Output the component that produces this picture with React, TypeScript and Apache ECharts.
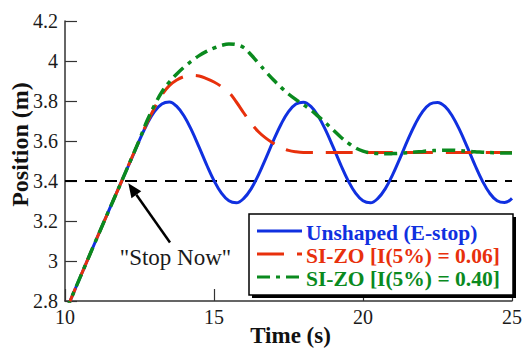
import React, { useEffect, useRef } from "react";
import * as echarts from "echarts";

// Sample times (s): constant-velocity ramp, then 0.25 s steps after the stop command
const timeS = [
  10, 11, 12, 12.25, 12.5, 12.75, 13, 13.25, 13.5, 13.75, 14, 14.25, 14.5, 14.75,
  15, 15.25, 15.5, 15.75, 16, 16.25, 16.5, 16.75, 17, 17.25, 17.5, 17.75, 18,
  18.25, 18.5, 18.75, 19, 19.25, 19.5, 19.75, 20, 20.25, 20.5, 20.75, 21, 21.25,
  21.5, 21.75, 22, 22.25, 22.5, 22.75, 23, 23.25, 23.5, 23.75, 24, 24.25, 24.5,
  24.75, 25,
];

// Position (m) — unshaped emergency stop
const unshapedPos = [
  2.74, 3.09,
  3.433, 3.517, 3.604, 3.684, 3.747, 3.785, 3.795, 3.773, 3.724, 3.653, 3.569, 3.482,
  3.402, 3.339, 3.301, 3.291, 3.313, 3.362, 3.433, 3.517, 3.604, 3.684, 3.747, 3.785,
  3.794, 3.773, 3.724, 3.653, 3.569, 3.482, 3.402, 3.339, 3.301, 3.291, 3.313, 3.362,
  3.433, 3.517, 3.604, 3.684, 3.747, 3.785, 3.793, 3.773, 3.724, 3.653, 3.569, 3.482,
  3.402, 3.339, 3.301, 3.292, 3.313,
];

// Position (m) — SI-ZO shaper, I(5%) = 0.06
const siZo006Pos = [
  2.74, 3.09,
  3.433, 3.52, 3.605, 3.69, 3.765, 3.83, 3.877, 3.905, 3.922, 3.928, 3.925, 3.912,
  3.895, 3.872, 3.843, 3.795, 3.74, 3.688, 3.645, 3.613, 3.588, 3.567, 3.553, 3.546,
  3.543, 3.543, 3.543, 3.543, 3.543, 3.543, 3.543, 3.543, 3.543, 3.543, 3.543, 3.543,
  3.543, 3.543, 3.543, 3.543, 3.543, 3.543, 3.543, 3.543, 3.543, 3.543, 3.543, 3.543,
  3.543, 3.543, 3.543, 3.543, 3.543,
];

// Position (m) — SI-ZO shaper, I(5%) = 0.40
const siZo040Pos = [
  2.74, 3.09,
  3.433, 3.52, 3.607, 3.7, 3.778, 3.845, 3.895, 3.935, 3.97, 4.0, 4.027, 4.048,
  4.065, 4.078, 4.085, 4.082, 4.067, 4.03, 3.988, 3.945, 3.905, 3.868, 3.835, 3.807,
  3.782, 3.755, 3.723, 3.69, 3.655, 3.62, 3.59, 3.565, 3.549, 3.541, 3.537, 3.536,
  3.537, 3.539, 3.542, 3.545, 3.548, 3.551, 3.553, 3.554, 3.554, 3.552, 3.549, 3.546,
  3.544, 3.542, 3.541, 3.54, 3.54,
];

// "Stop Now" threshold line
const stopLevel = 3.4;
const xRange = [10, 25];
const yRange = [2.8, 4.2];

const seriesNames = [
  "Unshaped (E-stop)",
  "SI-ZO [I(5%) = 0.06]",
  "SI-ZO [I(5%) = 0.40]",
];
const seriesColors = ["#1030e0", "#e8300c", "#0a8a1e"];

const FONT = "Liberation Serif";
const RED_DASH = [27, 13];
const GREEN_DASH = [13, 6, 4, 6];

const pairs = (ys: number[]) => timeS.map((t, i) => [t, ys[i]]);

export default function App() {
  const ref = useRef<HTMLDivElement>(null);

  useEffect(() => {
    document.body.style.margin = "0";
    if (!ref.current) return;
    const chart = echarts.init(ref.current, undefined, { renderer: "svg" });

    const lineBase = {
      type: "line" as const,
      showSymbol: false,
      symbol: "none",
      smooth: 0.4,
      clip: true,
    };

    // legend box and rows
    const legendX = 249;
    const legendY = 214;
    const legendW = 264;
    const legendH = 81;
    const rowY = [232, 255, 278];
    const dashes: any[] = [null, RED_DASH, GREEN_DASH];

    const legendGraphics: any[] = [
      {
        type: "rect",
        shape: { x: legendX + 3, y: legendY + 3, width: legendW, height: legendH },
        style: { fill: "#000" },
        z: 100,
      },
      {
        type: "rect",
        shape: { x: legendX, y: legendY, width: legendW, height: legendH },
        style: { fill: "#fff", stroke: "#000", lineWidth: 1.5 },
        z: 101,
      },
    ];
    rowY.forEach((y, i) => {
      legendGraphics.push({
        type: "line",
        shape: { x1: 257, y1: y - 1, x2: 302, y2: y - 1 },
        style: { stroke: seriesColors[i], lineWidth: 3, lineDash: dashes[i] },
        z: 102,
      });
      legendGraphics.push({
        type: "text",
        x: 306,
        y: y + 1,
        style: {
          text: seriesNames[i],
          fill: seriesColors[i],
          fontFamily: FONT,
          fontWeight: "bold",
          fontSize: 21.5,
          align: "left",
          verticalAlign: "middle",
        },
        z: 102,
      });
    });

    // arrow pointing at the stop instant on the ramp
    const tip = [128.3, 183.3];
    const tail = [170, 242.5];
    const dx = tail[0] - tip[0];
    const dy = tail[1] - tip[1];
    const len = Math.hypot(dx, dy);
    const ux = dx / len;
    const uy = dy / len;
    const headLen = 14;
    const headHalf = 6;
    const bx = tip[0] + ux * headLen;
    const by = tip[1] + uy * headLen;

    chart.setOption({
      animation: false,
      textStyle: { fontFamily: FONT },
      grid: { left: 65, right: 10, top: 21, bottom: 47 },
      xAxis: {
        type: "value",
        min: xRange[0],
        max: xRange[1],
        interval: 5,
        splitLine: { show: false },
        axisLine: { lineStyle: { color: "#333", width: 1.5 } },
        axisTick: { inside: true, length: 12, lineStyle: { color: "#333", width: 1.2 } },
        axisLabel: { color: "#1a1a1a", fontFamily: FONT, fontSize: 20, margin: 6 },
      },
      yAxis: {
        type: "value",
        min: yRange[0],
        max: yRange[1],
        interval: 0.2,
        splitLine: { show: false },
        axisLine: { show: true, lineStyle: { color: "#333", width: 1.5 } },
        axisTick: { show: true, inside: true, length: 12, lineStyle: { color: "#333", width: 1.2 } },
        axisLabel: {
          color: "#1a1a1a",
          fontFamily: FONT,
          fontSize: 20,
          margin: 7,
          formatter: (v: number) => String(Math.round(v * 10) / 10),
        },
      },
      series: [
        {
          ...lineBase,
          name: "stop",
          smooth: false,
          data: [
            [xRange[0], stopLevel],
            [xRange[1], stopLevel],
          ],
          lineStyle: { color: "#000", width: 2, type: [12, 8] },
          z: 1,
        },
        {
          ...lineBase,
          name: seriesNames[0],
          data: pairs(unshapedPos),
          lineStyle: { color: seriesColors[0], width: 3 },
          z: 2,
        },
        {
          ...lineBase,
          name: seriesNames[1],
          data: pairs(siZo006Pos),
          lineStyle: { color: seriesColors[1], width: 3, type: RED_DASH },
          z: 3,
        },
        {
          ...lineBase,
          name: seriesNames[2],
          data: pairs(siZo040Pos),
          lineStyle: { color: seriesColors[2], width: 3.5, type: GREEN_DASH },
          z: 4,
        },
      ],
      graphic: [
        {
          type: "text",
          x: 20,
          y: 144.5,
          rotation: Math.PI / 2,
          style: {
            text: "Position (m)",
            fill: "#111",
            fontFamily: FONT,
            fontWeight: "bold",
            fontSize: 24,
            align: "center",
            verticalAlign: "middle",
          },
        },
        {
          type: "text",
          x: 290.5,
          y: 335.5,
          style: {
            text: "Time (s)",
            fill: "#111",
            fontFamily: FONT,
            fontWeight: "bold",
            fontSize: 23,
            align: "center",
            verticalAlign: "middle",
          },
        },
        {
          type: "text",
          x: 175.5,
          y: 257,
          style: {
            text: '"Stop Now"',
            fill: "#1a1a1a",
            fontFamily: FONT,
            fontSize: 23,
            align: "center",
            verticalAlign: "middle",
          },
        },
        {
          type: "line",
          shape: { x1: tail[0], y1: tail[1], x2: bx, y2: by },
          style: { stroke: "#000", lineWidth: 2.5 },
          z: 50,
        },
        {
          type: "polygon",
          shape: {
            points: [
              [tip[0], tip[1]],
              [bx - uy * headHalf, by + ux * headHalf],
              [bx + uy * headHalf, by - ux * headHalf],
            ],
          },
          style: { fill: "#000" },
          z: 50,
        },
        ...legendGraphics,
      ],
    });

    return () => chart.dispose();
  }, []);

  return <div ref={ref} style={{ width: 525, height: 348 }} />;
}
